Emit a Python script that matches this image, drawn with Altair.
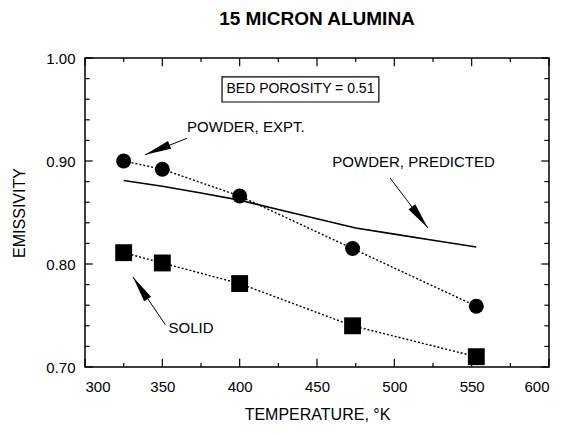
import altair as alt
import pandas as pd

# ---- data ----
temps = [325, 350, 400, 473, 553]
powder_expt = [0.900, 0.892, 0.866, 0.815, 0.759]
solid = [0.811, 0.801, 0.781, 0.740, 0.710]

pred_temps = [325, 350, 375, 400, 425, 450, 475, 500, 525, 553]
pred_vals = [0.881, 0.8755, 0.869, 0.862, 0.853, 0.844, 0.835, 0.829, 0.823, 0.8165]

x_major = [300, 350, 400, 450, 500, 550, 600]
x_minor = [325, 375, 425, 475, 525, 575]
y_major = [0.70, 0.80, 0.90, 1.00]
y_minor = [0.72, 0.74, 0.76, 0.78, 0.82, 0.84, 0.86, 0.88, 0.92, 0.94, 0.96, 0.98]

# annotations (data units)
ann_text = ["POWDER, EXPT.", "POWDER, PREDICTED", "SOLID"]
ann_x = [366.0, 565.0, 354.0]
ann_y = [0.933, 0.899, 0.738]
ann_align = ["left", "right", "left"]

arrow_id = ["expt", "pred", "solid"]
arrow_tail_x = [365.9, 497.2, 352.0]
arrow_tail_y = [0.922, 0.8835, 0.741]
arrow_tip_x = [338.8, 521.7, 331.0]
arrow_tip_y = [0.906, 0.835, 0.7874]
arrow_angle = [248.0, 142.8, 326.3]

box_label = "BED POROSITY = 0.51"
box_x = [388.6, 490.0]
box_y = [0.9573, 0.9816]

FONT = "Liberation Sans"

# ---- tables ----
df_expt = pd.DataFrame({"x": temps, "y": powder_expt})
df_solid = pd.DataFrame({"x": temps, "y": solid})
df_pred = pd.DataFrame({"x": pred_temps, "y": pred_vals})

tick_rows = []
XL, XS = 0.008, 0.004
YL, YS = 5.0, 3.0
for v in x_major:
    tick_rows.append(dict(x=v, x2=v, y=0.70, y2=0.70 + XL))
    tick_rows.append(dict(x=v, x2=v, y=1.00, y2=1.00 - XL))
for v in x_minor:
    tick_rows.append(dict(x=v, x2=v, y=0.70, y2=0.70 + XS))
    tick_rows.append(dict(x=v, x2=v, y=1.00, y2=1.00 - XS))
for v in y_major:
    tick_rows.append(dict(x=300, x2=300 + YL, y=v, y2=v))
    tick_rows.append(dict(x=600, x2=600 - YL, y=v, y2=v))
for v in y_minor:
    tick_rows.append(dict(x=300, x2=300 + YS, y=v, y2=v))
    tick_rows.append(dict(x=600, x2=600 - YS, y=v, y2=v))
df_ticks = pd.DataFrame(tick_rows)

df_ann = pd.DataFrame({"t": ann_text, "x": ann_x, "y": ann_y, "al": ann_align})
arrow_rows = []
for i, a in enumerate(arrow_id):
    arrow_rows.append(dict(id=a, o=0, x=arrow_tail_x[i], y=arrow_tail_y[i]))
    arrow_rows.append(dict(id=a, o=1, x=arrow_tip_x[i], y=arrow_tip_y[i]))
df_arrow = pd.DataFrame(arrow_rows)
df_heads = pd.DataFrame({"x": arrow_tip_x, "y": arrow_tip_y, "ang": arrow_angle})
df_box = pd.DataFrame({"x": [box_x[0]], "x2": [box_x[1]], "y": [box_y[0]], "y2": [box_y[1]]})
df_box_t = pd.DataFrame({"t": [box_label], "x": [(box_x[0] + box_x[1]) / 2], "y": [(box_y[0] + box_y[1]) / 2]})

xs = alt.Scale(domain=[300, 600], nice=False, zero=False)
ys = alt.Scale(domain=[0.70, 1.00], nice=False, zero=False)

xax = alt.Axis(values=x_major, format="d", title="TEMPERATURE, °K", labelPadding=12, titlePadding=12)
yax = alt.Axis(values=y_major, format=".2f", title="EMISSIVITY", labelPadding=10, titlePadding=18)
X = alt.X("x:Q", scale=xs, axis=xax)
Y = alt.Y("y:Q", scale=ys, axis=yax)

ticks = alt.Chart(df_ticks).mark_rule(color="black", strokeWidth=1.2).encode(
    x=X, x2="x2:Q", y=Y, y2="y2:Q")

pred_line = alt.Chart(df_pred).mark_line(color="black", strokeWidth=1.6).encode(x=X, y=Y)
expt_line = alt.Chart(df_expt).mark_line(color="black", strokeWidth=1.4, strokeDash=[2, 2]).encode(x=X, y=Y)
solid_line = alt.Chart(df_solid).mark_line(color="black", strokeWidth=1.4, strokeDash=[2, 2]).encode(x=X, y=Y)
expt_pts = alt.Chart(df_expt).mark_point(shape="circle", filled=True, size=225, color="black", opacity=1).encode(x=X, y=Y)
solid_pts = alt.Chart(df_solid).mark_point(shape="square", filled=True, size=285, color="black", opacity=1).encode(x=X, y=Y)

arrows = alt.Chart(df_arrow).mark_line(color="black", strokeWidth=1).encode(
    x=X, y=Y, detail="id:N", order="o:Q")
heads = alt.Chart(df_heads).mark_point(
    shape="M0,0 L0.32,2 L-0.32,2 Z", filled=True, size=700, color="black", opacity=1
).encode(x=X, y=Y, angle=alt.Angle("ang:Q", scale=None))

ann_left = alt.Chart(df_ann[df_ann["al"] == "left"]).mark_text(
    font=FONT, fontSize=15, align="left", baseline="middle", color="black").encode(x=X, y=Y, text="t:N")
ann_right = alt.Chart(df_ann[df_ann["al"] == "right"]).mark_text(
    font=FONT, fontSize=15, align="right", baseline="middle", color="black").encode(x=X, y=Y, text="t:N")

box = alt.Chart(df_box).mark_rect(fill="white", stroke="black", strokeWidth=1.2).encode(
    x=X, x2="x2:Q", y=Y, y2="y2:Q")
box_text = alt.Chart(df_box_t).mark_text(font=FONT, fontSize=14, align="center", baseline="middle",
                                         color="black").encode(x=X, y=Y, text="t:N")

chart = alt.layer(
    ticks, pred_line, expt_line, solid_line, expt_pts, solid_pts, arrows, heads,
    ann_left, ann_right, box, box_text
).properties(
    width=464, height=309,
    title=alt.TitleParams("15 MICRON ALUMINA", font=FONT, fontSize=19, fontWeight="bold",
                          anchor="middle", offset=22, color="black"),
    autosize=alt.AutoSizeParams(type="none"),
    padding={"left": 77, "top": 50, "right": 8, "bottom": 60},
).configure_view(
    stroke="black", strokeWidth=1.5
).configure_axis(
    domain=False, ticks=False, tickSize=0, grid=False,
    labelFont=FONT, labelFontSize=15, labelColor="black",
    titleFont=FONT, titleFontSize=16, titleFontWeight="normal", titleColor="black"
)

chart.save("out.html", embed_options={"renderer": "svg", "actions": False})
